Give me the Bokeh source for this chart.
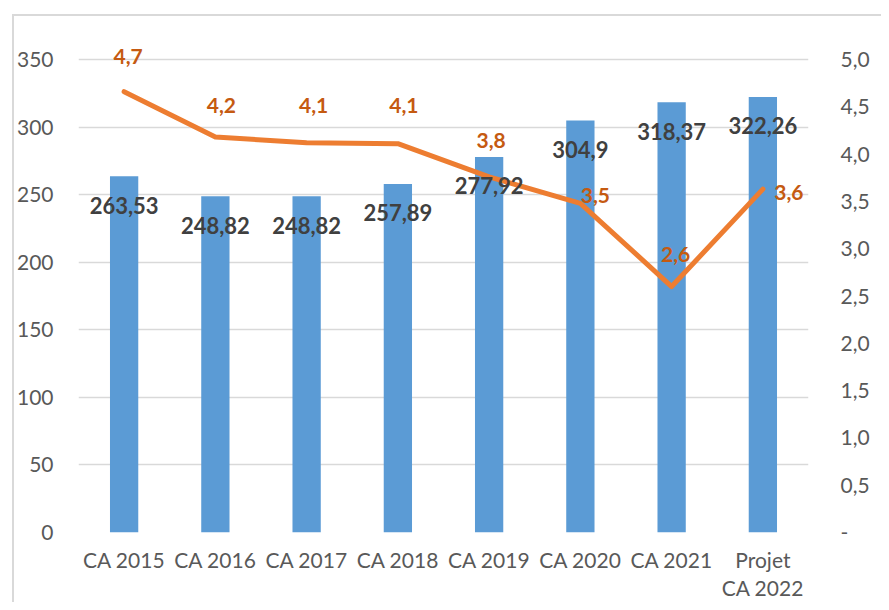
from bokeh.plotting import figure
from bokeh.models import (ColumnDataSource, Range1d, LinearAxis, CategoricalAxis,
                          FixedTicker, CustomJSTickFormatter, LabelSet)
from bokeh.core.properties import value
from bokeh.embed import file_html
from bokeh.resources import INLINE

# ---- data ----
categories = ["CA 2015", "CA 2016", "CA 2017", "CA 2018", "CA 2019",
              "CA 2020", "CA 2021", "Projet\nCA 2022"]
ca_values = [263.53, 248.82, 248.82, 257.89, 277.92, 304.9, 318.37, 322.26]
rate_values = [4.66, 4.18, 4.12, 4.11, 3.76, 3.48, 2.60, 3.63]
left_ticks = [0, 50, 100, 150, 200, 250, 300, 350]
right_ticks = [0, 0.5, 1.0, 1.5, 2.0, 2.5, 3.0, 3.5, 4.0, 4.5, 5.0]

# label placement (style)
rate_label_dx = [4, 6, 7, 6, 2, 15, 4, 26]
rate_label_dy = [35, 32, 37, 38, 36, 8, 32, -3]

FONT = "Lato"
BAR = "#5B9BD5"
LINE = "#ED7D31"
TICK_COLOR = "#595959"
FRAME_LINE = "#D9D9D9"

# layout (pixels inside the figure)
W, H = 881, 602
FRAME_TOP, FRAME_BOTTOM = 30, 532
TOP_GRID = 59  # where the highest gridline sits
ext = (FRAME_BOTTOM - FRAME_TOP) / (FRAME_BOTTOM - TOP_GRID)

ca_labels = [f"{v:g}".replace(".", ",") for v in ca_values]
rate_labels = [f"{v:.1f}".replace(".", ",") for v in rate_values]

src = ColumnDataSource(dict(cat=categories, ca=ca_values, rate=rate_values,
                            ca_lab=ca_labels, rate_lab=rate_labels,
                            dx=rate_label_dx, dy=rate_label_dy))

p = figure(x_range=categories, y_range=Range1d(0, left_ticks[-1] * ext),
           width=W, height=H, output_backend="svg", toolbar_location=None,
           min_border_left=78, min_border_right=73, min_border_top=FRAME_TOP,
           min_border_bottom=H - FRAME_BOTTOM)
p.extra_y_ranges = {"rate": Range1d(0, right_ticks[-1] * ext)}
p.outline_line_color = None
p.background_fill_color = "white"
p.border_fill_color = None
# light grey chart-area border (top and left edges), drawn behind the transparent border area
p.styles = {
    "background": (f"linear-gradient({FRAME_LINE}, {FRAME_LINE}) 12px 14px / 2px {H}px no-repeat, "
                   f"linear-gradient({FRAME_LINE}, {FRAME_LINE}) 12px 14px / {W}px 2px no-repeat, "
                   "white"),
}

p.vbar(x="cat", top="ca", width=0.31, source=src, fill_color=BAR, line_color=None)
p.line(x="cat", y="rate", y_range_name="rate", source=src, line_color=LINE,
       line_width=5, line_join="round", line_cap="round")

# axes
p.yaxis[0].ticker = FixedTicker(ticks=left_ticks)
rax = LinearAxis(y_range_name="rate", ticker=FixedTicker(ticks=right_ticks),
                 formatter=CustomJSTickFormatter(
                     code="return tick == 0 ? '-' : tick.toFixed(1).replace('.', ',');"))
p.add_layout(rax, "right")

# two-line category labels: first line on the main x axis, second on a second row
xax2 = CategoricalAxis(formatter=CustomJSTickFormatter(
    code="var s = String(tick).split('\\n'); return s.length > 1 ? s[1] : '';"))
p.add_layout(xax2, "below")
p.xaxis[0].formatter = CustomJSTickFormatter(code="return String(tick).split('\\n')[0];")

for ax in [p.yaxis[0], rax, p.xaxis[0], xax2]:
    ax.axis_line_color = None
    ax.major_tick_line_color = None
    ax.minor_tick_line_color = None
    ax.major_tick_out = 0
    ax.major_tick_in = 0
    ax.major_label_text_font = FONT
    ax.major_label_text_font_size = "21px"
    ax.major_label_text_color = TICK_COLOR

p.yaxis[0].major_label_standoff = 25
rax.major_label_standoff = 32
p.xaxis[0].major_label_standoff = 14
xax2.major_label_standoff = 0

p.xgrid.grid_line_color = None
p.ygrid.ticker = FixedTicker(ticks=left_ticks)
p.ygrid.grid_line_color = "#D9D9D9"
p.ygrid.grid_line_width = 1.5

bar_labels = LabelSet(x="cat", y="ca", text="ca_lab", source=src, y_offset=-29,
                      text_align="center", text_baseline="middle",
                      text_font=value(FONT), text_font_size=value("22px"),
                      text_font_style=value("bold"), text_color=value("#404040"))
rate_lbls = LabelSet(x="cat", y="rate", text="rate_lab", source=src,
                     y_range_name="rate", x_offset="dx", y_offset="dy",
                     text_align="center", text_baseline="middle",
                     text_font=value(FONT), text_font_size=value("21px"),
                     text_font_style=value("bold"), text_color=value("#C55A11"))
p.add_layout(bar_labels)
p.add_layout(rate_lbls)

open("out.html", "w").write(file_html(p, INLINE))
